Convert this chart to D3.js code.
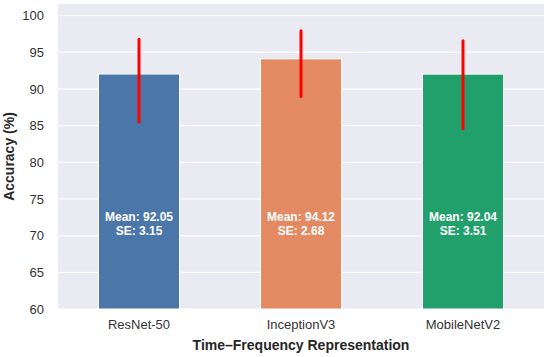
<!DOCTYPE html>
<html>
<head>
<meta charset="utf-8">
<script src="https://cdn.jsdelivr.net/npm/d3@7"></script>
<style>
  body { margin: 0; background: #fff; }
  text { font-family: "Liberation Sans", Arial, sans-serif; }
</style>
</head>
<body>
<div id="chart"></div>
<script>
// data
const models = ["ResNet-50", "InceptionV3", "MobileNetV2"];
const means = [92.05, 94.12, 92.04];
const ses = [3.15, 2.68, 3.51];
const errLow = [85.5, 89.0, 84.6];
const errHigh = [96.8, 97.95, 96.6];
const colors = ["#4a76aa", "#e38a62", "#22a06c"];
const yTicks = [60, 65, 70, 75, 80, 85, 90, 95, 100];

const margin = { top: 4, right: 6, bottom: 48, left: 58 },
    width = 550 - margin.left - margin.right,
    height = 357 - margin.top - margin.bottom;

const svg = d3.select("#chart")
    .append("svg")
    .attr("width", 550)
    .attr("height", 357)
    .append("g")
    .attr("transform", "translate(" + margin.left + "," + margin.top + ")");

// background
svg.append("rect")
    .attr("width", width)
    .attr("height", height)
    .attr("fill", "#eaeaf2");

const x = d3.scaleBand()
    .domain(models)
    .range([0, width])
    .paddingInner(0.5)
    .paddingOuter(0.25);

const y = d3.scaleLinear()
    .domain([60, 101.6])
    .range([height, 0]);

// grid
svg.append("g")
    .selectAll("line")
    .data(yTicks)
    .join("line")
    .attr("x1", 0)
    .attr("x2", width)
    .attr("y1", d => y(d))
    .attr("y2", d => y(d))
    .attr("stroke", "#fff")
    .attr("stroke-width", 1.2);

// y axis
const yAxis = svg.append("g")
    .call(d3.axisLeft(y).tickValues(yTicks).tickSize(0).tickPadding(14));
yAxis.select(".domain").remove();
yAxis.selectAll("text")
    .attr("font-size", 13)
    .attr("fill", "#333");

// x axis
const xAxis = svg.append("g")
    .attr("transform", "translate(0," + height + ")")
    .call(d3.axisBottom(x).tickSize(0).tickPadding(11));
xAxis.select(".domain").remove();
xAxis.selectAll("text")
    .attr("font-size", 13)
    .attr("fill", "#333");

// bars
svg.append("g")
    .selectAll("rect")
    .data(models)
    .join("rect")
    .attr("x", d => x(d))
    .attr("y", (d, i) => y(means[i]))
    .attr("width", x.bandwidth())
    .attr("height", (d, i) => height - y(means[i]))
    .attr("fill", (d, i) => colors[i])
    .attr("stroke", "#fff")
    .attr("stroke-width", 1);

// error bars
svg.append("g")
    .selectAll("line")
    .data(models)
    .join("line")
    .attr("x1", d => x(d) + x.bandwidth() / 2)
    .attr("x2", d => x(d) + x.bandwidth() / 2)
    .attr("y1", (d, i) => y(errLow[i]))
    .attr("y2", (d, i) => y(errHigh[i]))
    .attr("stroke", "red")
    .attr("stroke-width", 3)
    .attr("stroke-linecap", "round");

// labels inside bars
const labels = svg.append("g")
    .selectAll("text")
    .data(models)
    .join("text")
    .attr("text-anchor", "middle")
    .attr("fill", "#fff")
    .attr("font-weight", "bold")
    .attr("font-size", 12);
labels.append("tspan")
    .attr("x", d => x(d) + x.bandwidth() / 2)
    .attr("y", y(72.0))
    .text((d, i) => "Mean: " + means[i].toFixed(2));
labels.append("tspan")
    .attr("x", d => x(d) + x.bandwidth() / 2)
    .attr("y", y(70.1))
    .text((d, i) => "SE: " + ses[i].toFixed(2));

// axis titles
svg.append("text")
    .attr("x", width / 2)
    .attr("y", height + 41)
    .attr("text-anchor", "middle")
    .attr("font-size", 14)
    .attr("font-weight", "bold")
    .attr("fill", "#262626")
    .text("Time–Frequency Representation");

svg.append("text")
    .attr("transform", "rotate(-90)")
    .attr("x", -height / 2)
    .attr("y", -44)
    .attr("text-anchor", "middle")
    .attr("font-size", 14)
    .attr("font-weight", "bold")
    .attr("fill", "#262626")
    .text("Accuracy (%)");
</script>
</body>
</html>
